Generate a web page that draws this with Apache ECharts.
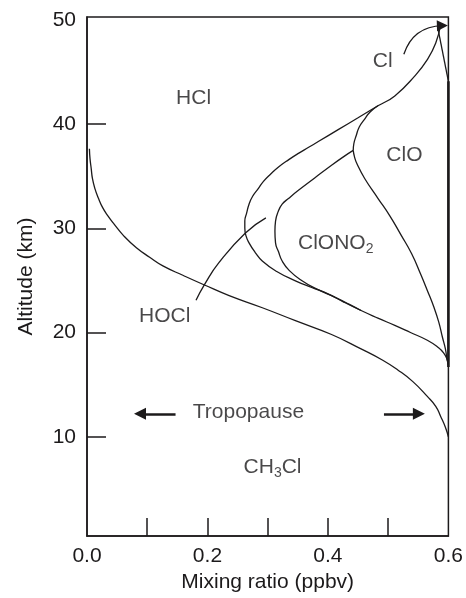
<!DOCTYPE html>
<html>
<head>
<meta charset="utf-8">
<script src="https://cdn.jsdelivr.net/npm/echarts@6/dist/echarts.min.js"></script>
<style>
  html, body { margin: 0; padding: 0; background: #fff; }
  #chart { width: 466px; height: 598px; }
</style>
</head>
<body>
<div id="chart"></div>
<script>
// Altitude profiles of chlorine partitioning, [mixing ratio (ppbv), altitude (km)]
const ch3clBoundary = [[0.004,37.63],[0.005,36.68],[0.007,35.73],[0.009,34.78],[0.013,33.83],[0.019,32.88],[0.026,31.98],[0.035,31.17],[0.045,30.40],[0.061,29.27],[0.082,28.13],[0.104,27.22],[0.126,26.39],[0.160,25.47],[0.195,24.56],[0.236,23.54],[0.290,22.40],[0.346,21.14],[0.406,19.81],[0.455,18.43],[0.491,17.34],[0.516,16.41],[0.541,15.29],[0.565,13.87],[0.579,12.92],[0.587,11.97],[0.595,10.92],[0.600,10.00]];
const hclBoundary = [[0.587,49.51],[0.579,47.77],[0.565,46.18],[0.544,44.60],[0.511,42.70],[0.483,41.75],[0.450,40.60],[0.417,39.46],[0.384,38.32],[0.368,37.77],[0.351,37.19],[0.335,36.59],[0.318,35.88],[0.305,35.21],[0.293,34.50],[0.284,33.78],[0.275,33.07],[0.269,32.31],[0.265,31.45],[0.262,30.69],[0.262,30.03],[0.264,29.27],[0.269,28.60],[0.279,27.70],[0.291,26.86],[0.315,25.85],[0.346,24.96],[0.373,24.32],[0.401,23.69],[0.427,22.90],[0.455,22.11],[0.483,21.38],[0.511,20.68],[0.537,20.00],[0.565,19.26],[0.582,18.62],[0.592,18.05],[0.598,17.39],[0.600,16.91]];
const cloTop = [[0.483,41.75],[0.470,41.15],[0.461,40.48],[0.452,39.72],[0.447,38.90],[0.443,38.11],[0.442,37.47]];
const clono2Boundary = [[0.442,37.47],[0.425,36.83],[0.406,36.05],[0.378,34.83],[0.351,33.64],[0.335,32.88],[0.324,32.31],[0.317,31.55],[0.313,30.69],[0.312,29.74],[0.313,28.60],[0.318,27.74],[0.324,26.86],[0.336,25.94],[0.357,24.96],[0.381,24.18],[0.412,23.37],[0.434,22.75],[0.455,22.11]];
const cloBoundary = [[0.442,37.47],[0.444,36.87],[0.448,36.21],[0.461,34.78],[0.483,32.88],[0.503,31.17],[0.521,29.39],[0.539,27.56],[0.554,25.59],[0.565,24.04],[0.576,22.42],[0.584,21.00],[0.590,19.57],[0.595,18.43],[0.598,17.36],[0.600,16.91]];
const hoclPointer = [[0.181,23.1],[0.195,24.6],[0.219,26.7],[0.263,29.55],[0.297,31.0]];
const clTopEdge = [[0.582,49.35],[0.600,44.1]];
const totalEdge = [[0.600,44.1],[0.600,16.7]];
const clArrow = [[0.526,46.7],[0.590,49.45]];
const tropopauseLeft = [[0.147,12.2],[0.088,12.2]];
const tropopauseRight = [[0.493,12.2],[0.551,12.2]];

// Axis ticks and labels
const xLabelValues = [0, 0.2, 0.4, 0.6];
const xTickValues = [0.1, 0.2, 0.3, 0.4, 0.5];
const yLabelValues = [10, 20, 30, 40, 50];
const yTickValues = [10, 20, 30, 40];

// Species names and where they sit on the chart
const speciesNames = ['HCl', 'Cl', 'ClO', 'ClONO{sub|2}', 'HOCl', 'Tropopause', 'CH{sub|3}Cl'];
const labelPlacement = [[0.177,42.45],[0.491,46.0],[0.527,37.0],[0.413,28.55],[0.129,21.6],[0.268,12.35],[0.308,7.05]];

const ink = '#1c1a1b';
const font = '"Liberation Sans", Arial, Helvetica, sans-serif';
const FS = 21;

function curve(name, data, width) {
  return {
    name, type: 'line', data, smooth: 0.5, smoothMonotone: 'none', showSymbol: false, symbol: 'none',
    silent: true, clip: false,
    lineStyle: { color: ink, width: width || 1.3 }
  };
}

function arrow(name, coords, curveness, width, size) {
  return {
    name, type: 'lines', coordinateSystem: 'cartesian2d', silent: true,
    symbol: ['none', 'triangle'], symbolSize: size,
    lineStyle: { color: ink, width, curveness, opacity: 1 },
    itemStyle: { color: ink },
    data: [{ coords }]
  };
}

const chart = echarts.init(document.getElementById('chart'), null, { renderer: 'canvas' });
chart.setOption({
  animation: false,
  backgroundColor: '#fff',
  textStyle: { fontFamily: font, color: ink },
  grid: { left: 87, right: 15, top: 17, bottom: 57, show: true, borderColor: ink, borderWidth: 1.5 },
  xAxis: {
    type: 'value', min: 0, max: 0.6, interval: 0.1,
    axisLine: { show: true, lineStyle: { color: ink, width: 1.5 } },
    axisTick: { show: true, inside: true, length: 18, customValues: xTickValues, lineStyle: { color: ink, width: 1.5 } },
    axisLabel: { customValues: xLabelValues, formatter: v => v.toFixed(1), fontSize: FS, color: ink, fontFamily: font, margin: 10 },
    splitLine: { show: false },
    name: 'Mixing ratio (ppbv)', nameLocation: 'middle', nameGap: 33,
    nameTextStyle: { fontSize: FS, color: ink, fontFamily: font }
  },
  yAxis: {
    type: 'value', min: 0.47, max: 50.27,
    axisLine: { show: true, lineStyle: { color: ink, width: 1.5 } },
    axisTick: { show: true, inside: true, length: 19, customValues: yTickValues, lineStyle: { color: ink, width: 1.5 } },
    axisLabel: { customValues: yLabelValues, fontSize: FS, color: ink, fontFamily: font, margin: 11 },
    splitLine: { show: false },
    name: 'Altitude (km)', nameLocation: 'middle', nameGap: 50, nameRotate: 90,
    nameTextStyle: { fontSize: FS, color: ink, fontFamily: font }
  },
  series: [
    curve('CH3Cl', ch3clBoundary),
    curve('HCl', hclBoundary),
    curve('ClO top', cloTop),
    curve('ClONO2', clono2Boundary),
    curve('ClO', cloBoundary),
    curve('HOCl', hoclPointer),
    curve('Cl edge', clTopEdge),
    curve('Total', totalEdge, 2.6),
    arrow('Cl arrow', clArrow, 0.35, 1.3, 11),
    arrow('Tropopause left', tropopauseLeft, 0, 2.6, 12),
    arrow('Tropopause right', tropopauseRight, 0, 2.6, 12),
    {
      name: 'labels', type: 'scatter', silent: true, symbolSize: 0,
      data: speciesNames.map((t, i) => ({ value: labelPlacement[i], label: { formatter: t } })),
      label: {
        show: true, position: 'inside', color: ink, fontFamily: font, fontSize: FS,
        rich: {
          sub: { fontSize: 14, fontFamily: font, color: ink, padding: [12, 0, 0, 0] }
        }
      }
    }
  ]
});
</script>
</body>
</html>
